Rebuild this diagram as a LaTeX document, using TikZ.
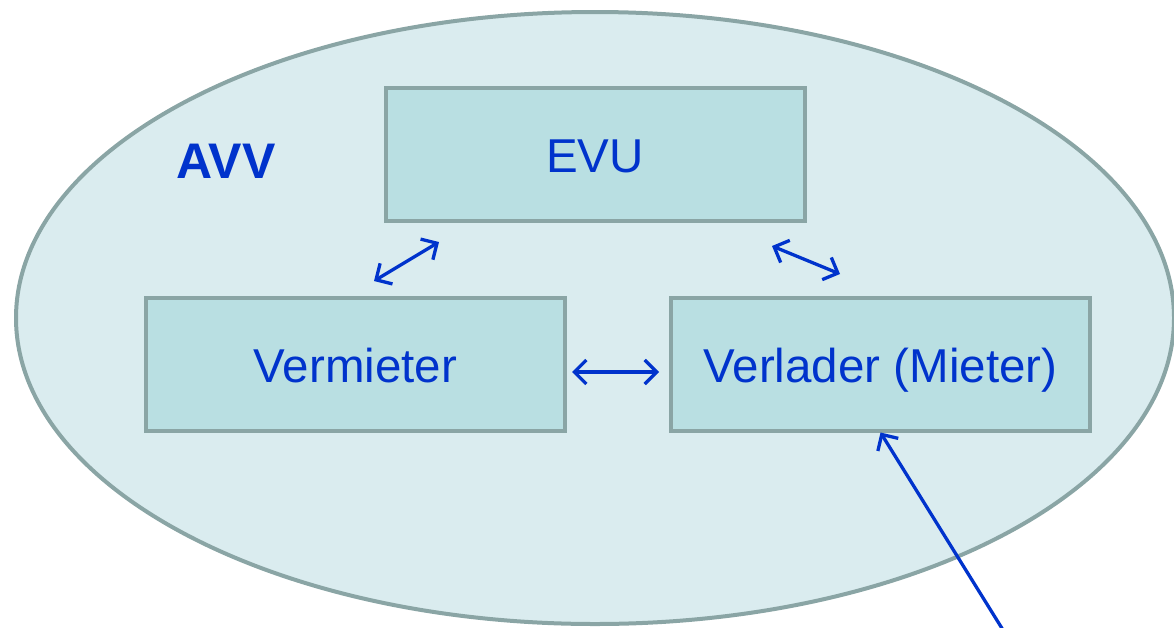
\documentclass[tikz,border=0pt]{standalone}
\usepackage{fontspec}
\setmainfont{Liberation Sans}
\usetikzlibrary{arrows.meta}
\definecolor{frame}{HTML}{8AA5A5}
\definecolor{ovalfill}{HTML}{DAECEF}
\definecolor{boxfill}{HTML}{B9DFE2}
\definecolor{ink}{HTML}{0033CC}
\begin{document}
\begin{tikzpicture}[x=1pt,y=-1pt,
  entity/.style={draw=frame, line width=4pt, fill=boxfill, minimum width=419pt, minimum height=133pt,
    text=ink, inner sep=0pt},
  label/.style={text=ink, font=\fontsize{47.5}{56}\selectfont, inner sep=0pt, anchor=base},
  link/.style={draw=ink, line width=3.3pt, {Straight Barb[length=12pt,width=24pt]}-{Straight Barb[length=12pt,width=24pt]}},
  oneway/.style={draw=ink, line width=3.3pt, -{Straight Barb[length=12pt,width=24pt]}}]
  \clip (0,0) rectangle (1174,627);
  \useasboundingbox (0,0) rectangle (1174,627);
  % surrounding association
  \draw[draw=frame, line width=4pt, fill=ovalfill] (595,318) ellipse [x radius=579, y radius=306];
  \node[text=ink, font=\fontsize{50}{58}\selectfont\bfseries, anchor=base] (avv) at (226,178) {AVV};
  % parties
  \node[entity] (evu) at (595,154) {};
  \node[entity] (verm) at (355.5,364) {};
  \node[entity] (verl) at (880.5,364) {};
  \node[label] at (evu.center |- 0,172) {EVU};
  \node[label] at (verm.center |- 0,382) {Vermieter};
  \node[label] at (verl.center |- 0,382) {Verlader (Mieter)};
  % relations
  \coordinate (a1) at (374,281); \coordinate (a2) at (439,242);
  \coordinate (b1) at (772,246); \coordinate (b2) at (840,274);
  \coordinate (c1) at (572,372); \coordinate (c2) at (659,372);
  \coordinate (d1) at (1003,630);
  \draw[link] (a1) -- (a2);
  \draw[link] (b1) -- (b2);
  \draw[link] (c1) -- (c2);
  \draw[oneway] (d1) -- (verl.south);
\end{tikzpicture}
\end{document}
